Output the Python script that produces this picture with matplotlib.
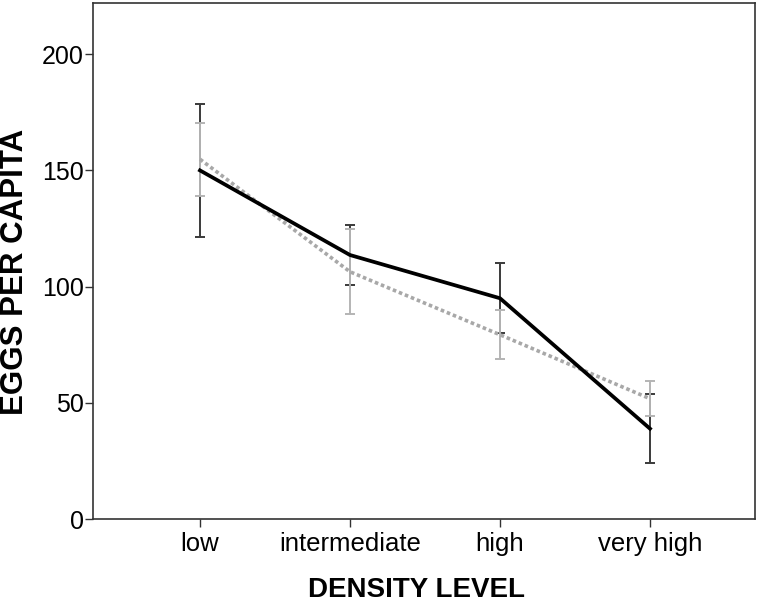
import numpy as np
import matplotlib
matplotlib.use("Agg")
import matplotlib.pyplot as plt

plt.rcParams['font.family'] = ['Liberation Sans', 'DejaVu Sans']

levels = ["low", "intermediate", "high", "very high"]
# solid black series: means and error half-widths
black_mean = [150.0, 113.6, 95.0, 38.9]
black_err = [28.5, 12.7, 15.0, 14.8]
# dotted grey series
grey_mean = [154.8, 106.4, 79.3, 51.8]
grey_err = [15.7, 18.3, 10.5, 7.4]

x = np.arange(len(levels))

fig = plt.figure(figsize=(7.6, 6.05), dpi=100)
ax = fig.add_axes([0.1224, 0.142, 0.871, 0.853])

ax.errorbar(x, black_mean, yerr=black_err, fmt="none", ecolor="#3a3a3a",
            elinewidth=1.4, capsize=3.5, capthick=1.4, zorder=2)
ax.errorbar(x, grey_mean, yerr=grey_err, fmt="none", ecolor="#b4b4b4",
            elinewidth=1.4, capsize=3.5, capthick=1.4, zorder=3)
ax.plot(x, grey_mean, color="#a8a8a8", linestyle=(0, (1, 0.8)), linewidth=2.6, zorder=4)
ax.plot(x, black_mean, color="black", linewidth=2.7, zorder=5)

ax.set_xlim(-0.713, 3.7)
ax.set_ylim(0, 222)
ax.set_xticks(x)
ax.set_xticklabels(levels, fontsize=18.5)
ax.set_yticks([0, 50, 100, 150, 200])
ax.tick_params(axis="y", labelsize=18, length=5.5, width=1, color="#333333", pad=1)
ax.tick_params(axis="x", length=5.5, width=1, color="#333333", pad=4)
for s in ax.spines.values():
    s.set_color("#333333")
    s.set_linewidth(1.2)

ax.set_xlabel("DENSITY LEVEL", fontsize=20, fontweight="bold")
ax.set_ylabel("EGGS PER CAPITA", fontsize=22.5, fontweight="bold")
ax.xaxis.set_label_coords(0.489, -0.112)
ax.yaxis.set_label_coords(-0.095, 0.48)

fig.savefig("out.png", dpi=100)
